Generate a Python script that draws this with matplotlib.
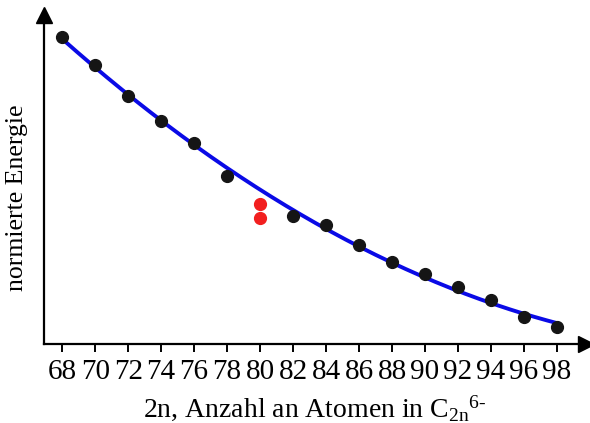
import numpy as np
import matplotlib
matplotlib.use("Agg")
import matplotlib.pyplot as plt

plt.rcParams['font.family'] = ['Liberation Serif', 'DejaVu Serif']
plt.rcParams['mathtext.fontset'] = 'custom'
plt.rcParams['mathtext.rm'] = 'Liberation Serif'
plt.rcParams['mathtext.it'] = 'Liberation Serif:italic'

atoms = [68, 70, 72, 74, 76, 78, 82, 84, 86, 88, 90, 92, 94, 96, 98]
energy = [307, 279, 248, 223, 201, 168, 128, 119, 99, 82, 70, 57, 44, 27, 17]
red_atoms = [80, 80]
red_energy = [140, 126]
xticks = list(range(68, 99, 2))

fig = plt.figure(figsize=(5.9, 4.23), dpi=100)
ax = fig.add_axes([44/590, 79/423, (586-44)/590, (344-15)/423])

coef = np.polyfit(atoms, energy, 2)
xf = np.linspace(68, 98, 200)
ax.plot(xf, np.polyval(coef, xf), color='#0a0ae6', lw=2.8, zorder=2)
ax.plot(atoms, energy, 'o', color='#151515', ms=8.5, zorder=3)
ax.plot(red_atoms, red_energy, 'o', color='#f21f1f', ms=8.5, zorder=3)

ax.set_xlim(66.9, 68 + (586-62)/16.5)
ax.set_ylim(0, 329)
for s in ['top', 'right']:
    ax.spines[s].set_visible(False)
for s in ['left', 'bottom']:
    ax.spines[s].set_linewidth(1.6)
ax.set_yticks([])
ax.set_xticks(xticks)
ax.tick_params(axis='x', direction='out', length=6, width=1.4, labelsize=21, pad=5)

# arrowheads
ax.plot(1, 0, marker='>', color='k', ms=11, transform=ax.transAxes, clip_on=False)
ax.plot(0, 1, marker='^', color='k', ms=11, transform=ax.transAxes, clip_on=False)

ax.set_xlabel(r"2n, Anzahl an Atomen in C$_{\mathrm{2n}}$$^{\mathrm{6}\text{-}}$", fontsize=20, labelpad=6)
ax.set_ylabel("normierte Energie", fontsize=18.5)
ax.yaxis.set_label_coords(-0.030, 0.444)

fig.savefig("out.png", dpi=100)
